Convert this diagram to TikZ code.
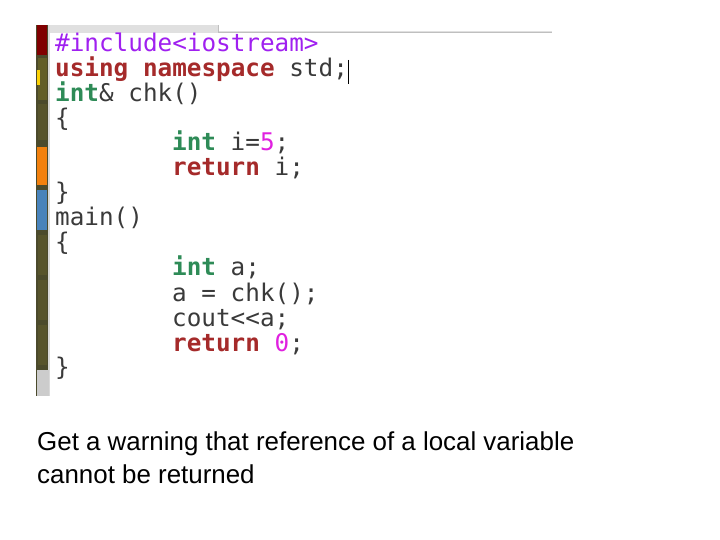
\documentclass[tikz,border=0pt]{standalone}
\usepackage{fontspec}
\setmainfont{Liberation Sans}
\setmonofont{DejaVu Sans Mono}
\usetikzlibrary{positioning}
\definecolor{kwred}{HTML}{A52A2A}
\definecolor{kwgreen}{HTML}{2E8B57}
\definecolor{ppurple}{HTML}{A020F0}
\definecolor{nummag}{HTML}{E020E0}
\definecolor{codegrey}{HTML}{3A3A3A}
\definecolor{stripbg}{HTML}{4B4A2C}
\newcommand{\kw}[1]{\textcolor{kwred}{\bfseries #1}}
\newcommand{\ty}[1]{\textcolor{kwgreen}{\bfseries #1}}
\newcommand{\nm}[1]{\textcolor{nummag}{#1}}
\tikzset{
  codeline/.style={anchor=base west, inner sep=0pt, font=\ttfamily\fontsize{24.4}{24}\selectfont, text=codegrey},
  caption/.style={anchor=base west, inner sep=0pt, font=\fontsize{26}{26}\selectfont, text=black}
}
\begin{document}
\begin{tikzpicture}[x=1bp,y=-1bp]
  \useasboundingbox (0,0) rectangle (720,540);
  % editor window
  \fill[white] (36,25) rectangle (552,396);
  \fill[black!12] (48,25) rectangle (552,33);
  \fill[white] (218,25) rectangle (552,31);
  \draw[black!25] (218,25) -- (218,32) -- (552,32);
  \fill[stripbg] (36,25) rectangle (48,396);
  \fill[black!15] (48,25) rectangle (50,396);
  \fill[red!50!black] (37,25) rectangle (47,55);
  \fill[olive!60!black] (38,58) rectangle (47,100);
  \fill[yellow!70!orange] (37,70) rectangle (40,85);
  \fill[olive!50!black] (38,104) rectangle (47,140);
  \fill[orange!80!brown] (37,147) rectangle (47,185);
  \fill[cyan!60!blue!70!gray] (37,190) rectangle (47,230);
  \fill[olive!50!black] (38,235) rectangle (47,275);
  \fill[olive!50!black] (38,280) rectangle (47,320);
  \fill[olive!50!black] (38,325) rectangle (47,365);
  \fill[black!20] (37,370) rectangle (49,396);
  % code
  \node[codeline] (l1) at (55,52) {\textcolor{ppurple}{\#include<iostream>}};
  \node[codeline] (l2) at (55,77) {\kw{using} \kw{namespace} std;};
  \draw[black] (348,60) -- (348,84);
  \node[codeline] (l3) at (55,102) {\ty{int}\&~chk()};
  \node[codeline] (l4) at (55,127) {\{};
  \node[codeline] (l5) at (172,151) {\ty{int} i=\nm{5};};
  \node[codeline] (l6) at (172,176) {\kw{return} i;};
  \node[codeline] (l7) at (55,201) {\}};
  \node[codeline] (l8) at (55,226) {main()};
  \node[codeline] (l9) at (55,251) {\{};
  \node[codeline] (l10) at (172,276) {\ty{int} a;};
  \node[codeline] (l11) at (172,301) {a = chk();};
  \node[codeline] (l12) at (172,326) {cout<<a;};
  \node[codeline] (l13) at (172,351) {\kw{return} \nm{0};};
  \node[codeline] (l14) at (55,375) {\}};
  % caption
  \node[caption] (cap1) at (37,450) {Get a warning that reference of a local variable};
  \node[caption] (cap2) at (37,483) {cannot be returned};
\end{tikzpicture}
\end{document}
